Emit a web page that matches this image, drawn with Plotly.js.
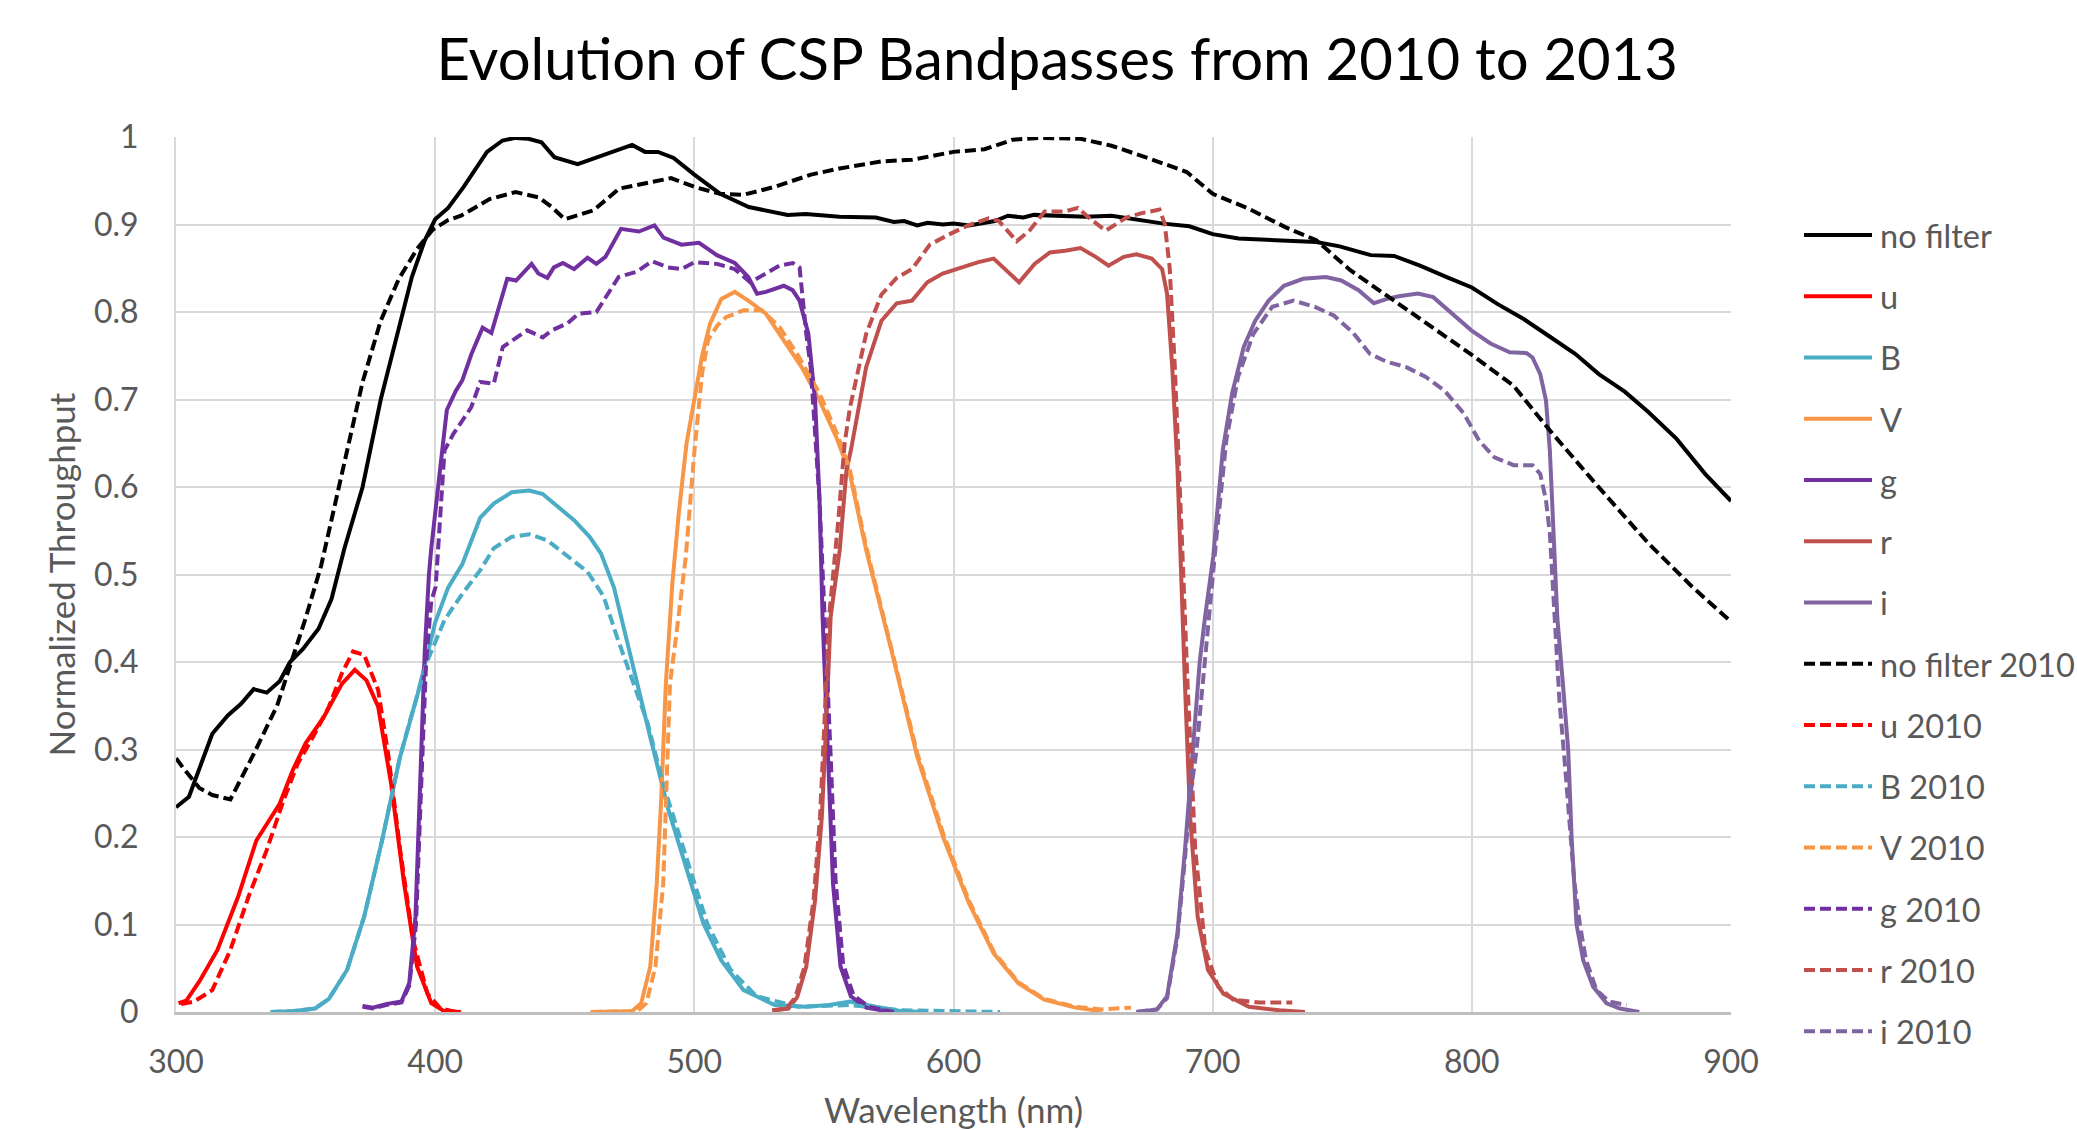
<!DOCTYPE html>
<html>
<head>
<meta charset="utf-8">
<script src="https://cdn.plot.ly/plotly-3.0.1.min.js"></script>
<style>
  html, body { margin: 0; padding: 0; background: #ffffff; overflow: hidden; }
  #chart { width: 2077px; height: 1130px; }
</style>
</head>
<body>
<div id="chart"></div>
<script>
// ---------- data (wavelength in nm, normalized throughput) ----------
const seriesNames = ["no filter", "u", "B", "V", "g", "r", "i",
  "no filter 2010", "u 2010", "B 2010", "V 2010", "g 2010", "r 2010", "i 2010"];

const noFilterWl = [300, 305, 314, 320, 325, 330, 335, 340, 344, 349, 355, 360, 365, 372, 379, 386, 391, 396, 400, 405, 411, 420, 426, 431, 436, 441, 446, 455, 466, 476, 481, 486, 492, 500, 510, 521, 536, 543, 556, 570, 577, 581, 586, 590, 596, 600, 606, 616, 621, 627, 631, 641, 651, 661, 671, 681, 691, 700, 710, 720, 730, 740, 749, 761, 770, 780, 791, 800, 810, 820, 830, 840, 849, 859, 868, 879, 890, 900];
const noFilterT  = [0.234, 0.246, 0.318, 0.339, 0.352, 0.369, 0.365, 0.378, 0.400, 0.415, 0.438, 0.472, 0.530, 0.600, 0.700, 0.780, 0.840, 0.882, 0.906, 0.919, 0.943, 0.983, 0.996, 0.999, 0.998, 0.994, 0.977, 0.969, 0.980, 0.991, 0.983, 0.983, 0.976, 0.957, 0.935, 0.920, 0.911, 0.912, 0.909, 0.908, 0.903, 0.904, 0.899, 0.902, 0.900, 0.901, 0.899, 0.904, 0.910, 0.908, 0.911, 0.910, 0.909, 0.910, 0.905, 0.901, 0.898, 0.889, 0.884, 0.883, 0.881, 0.880, 0.875, 0.865, 0.864, 0.853, 0.839, 0.828, 0.809, 0.792, 0.772, 0.752, 0.729, 0.709, 0.686, 0.655, 0.615, 0.584];

const uWl = [301, 304, 309, 316, 324, 331, 340, 345, 350, 357, 364, 369, 373.5, 378, 383, 388, 393, 398.5, 403.5, 410];
const uT  = [0.010, 0.013, 0.035, 0.071, 0.132, 0.196, 0.238, 0.276, 0.307, 0.337, 0.375, 0.391, 0.379, 0.349, 0.261, 0.147, 0.052, 0.010, 0.001, 0];

const bWl = [336.5, 345, 353.7, 359, 366, 372.6, 379.5, 386.4, 393.3, 400, 405, 410.5, 417.4, 422.6, 429.5, 436.4, 441.5, 446.7, 453.6, 459.6, 464, 469, 476, 483, 490, 497, 503.5, 510.4, 519, 531, 543, 552, 560, 570, 580, 590];
const bT  = [0, 0.001, 0.004, 0.015, 0.048, 0.109, 0.196, 0.291, 0.364, 0.445, 0.485, 0.512, 0.565, 0.581, 0.594, 0.596, 0.592, 0.579, 0.562, 0.543, 0.524, 0.485, 0.398, 0.314, 0.231, 0.162, 0.101, 0.059, 0.025, 0.008, 0.006, 0.008, 0.012, 0.006, 0.001, 0];

const vWl = [460, 476, 479.5, 483, 485.5, 487.2, 489, 491.5, 494, 497, 500, 503, 506, 510.4, 515.6, 520.8, 527.6, 534.5, 541.4, 548.3, 555.2, 560, 566.3, 576, 586, 596, 606, 615.5, 625, 635, 647, 657];
const vT  = [0, 0.001, 0.010, 0.052, 0.147, 0.242, 0.375, 0.489, 0.570, 0.650, 0.700, 0.750, 0.786, 0.815, 0.823, 0.813, 0.798, 0.768, 0.737, 0.699, 0.654, 0.615, 0.528, 0.414, 0.292, 0.200, 0.124, 0.067, 0.033, 0.014, 0.005, 0.001];

const gWl = [372, 376, 381, 387, 390, 392.4, 394.2, 396, 397.6, 398.5, 402, 404.5, 408, 410.5, 414, 418.3, 421.7, 425.2, 427.8, 431.2, 434.6, 437.2, 439.8, 443.3, 445.8, 449.3, 453.6, 458.8, 462.2, 465.7, 471.7, 478.6, 484.6, 488.1, 495, 501.8, 508.7, 515.6, 520.8, 524.2, 527.6, 534.5, 537.9, 540.6, 544, 546.6, 548.3, 549.5, 551.5, 553.5, 556.4, 560.4, 566.3, 576];
const gT  = [0.007, 0.005, 0.009, 0.012, 0.033, 0.109, 0.261, 0.413, 0.500, 0.530, 0.623, 0.688, 0.710, 0.722, 0.752, 0.782, 0.776, 0.813, 0.838, 0.836, 0.847, 0.855, 0.844, 0.839, 0.851, 0.856, 0.849, 0.862, 0.855, 0.863, 0.895, 0.892, 0.899, 0.885, 0.877, 0.879, 0.865, 0.856, 0.840, 0.821, 0.823, 0.830, 0.825, 0.813, 0.775, 0.699, 0.585, 0.450, 0.299, 0.147, 0.052, 0.018, 0.005, 0];

const rWl = [531, 536.3, 539.7, 543.2, 546.6, 549.2, 551, 552.6, 556.1, 558.7, 560.4, 566.3, 572.2, 578.1, 584, 589.9, 595.8, 603.7, 609.6, 615.5, 620.4, 625.3, 631.3, 637.2, 643.1, 649, 654.9, 659.8, 665.7, 670.6, 676.5, 680.5, 682.4, 684.4, 686.4, 687.4, 689.3, 691.3, 694.2, 698.2, 704.1, 714, 725.7, 735.6];
const rT  = [0.002, 0.004, 0.017, 0.052, 0.128, 0.223, 0.337, 0.452, 0.528, 0.619, 0.642, 0.737, 0.790, 0.810, 0.813, 0.834, 0.844, 0.852, 0.857, 0.861, 0.847, 0.834, 0.855, 0.868, 0.870, 0.873, 0.863, 0.853, 0.863, 0.866, 0.861, 0.849, 0.821, 0.737, 0.623, 0.528, 0.375, 0.223, 0.109, 0.048, 0.021, 0.006, 0.002, 0];

const iWl = [670.6, 678.5, 682.4, 686.4, 689.3, 691.3, 693.3, 695, 697, 700.2, 703.9, 707.5, 712, 716.4, 721.6, 727.5, 734.9, 743.7, 749.6, 756.3, 762.2, 767.3, 771.8, 779.2, 785.1, 791, 799.8, 807.2, 814.6, 821.2, 823.4, 826.4, 828.6, 830.1, 831.6, 833, 835, 837.2, 838.5, 840.4, 843, 846.8, 852, 857.1, 864.6];
const iT  = [0, 0.003, 0.018, 0.090, 0.185, 0.261, 0.340, 0.400, 0.450, 0.520, 0.642, 0.707, 0.760, 0.790, 0.813, 0.830, 0.838, 0.840, 0.836, 0.825, 0.810, 0.815, 0.818, 0.821, 0.817, 0.802, 0.779, 0.764, 0.754, 0.753, 0.748, 0.729, 0.699, 0.642, 0.547, 0.450, 0.380, 0.299, 0.200, 0.100, 0.059, 0.029, 0.010, 0.004, 0];

const noFilter2010Wl = [300, 303, 309, 314, 321, 330, 339, 344, 350, 356, 361, 366, 372, 379, 386, 393, 399, 405, 410, 421, 431, 440, 445, 450, 461, 471, 481, 491, 500, 510, 519, 531, 545, 556, 572, 584, 600, 612, 623, 633, 649, 661, 675, 690, 700, 714, 728, 740, 753, 769, 785, 800, 816, 830, 848, 868, 885, 900];
const noFilter2010T  = [0.290, 0.278, 0.256, 0.248, 0.243, 0.295, 0.350, 0.395, 0.450, 0.510, 0.575, 0.643, 0.720, 0.790, 0.838, 0.872, 0.894, 0.905, 0.910, 0.929, 0.937, 0.931, 0.920, 0.906, 0.916, 0.941, 0.947, 0.953, 0.943, 0.935, 0.934, 0.943, 0.957, 0.964, 0.972, 0.974, 0.983, 0.986, 0.997, 0.999, 0.998, 0.990, 0.976, 0.960, 0.935, 0.918, 0.897, 0.882, 0.848, 0.815, 0.783, 0.751, 0.716, 0.665, 0.603, 0.536, 0.486, 0.446];

const u2010Wl = [302, 307, 314, 321, 328, 335, 341.5, 347, 353, 359, 364, 368.3, 372.6, 378, 382, 386.5, 391.5, 397, 402, 408];
const u2010T  = [0.009, 0.012, 0.025, 0.071, 0.132, 0.185, 0.242, 0.284, 0.315, 0.349, 0.387, 0.412, 0.408, 0.368, 0.292, 0.185, 0.082, 0.021, 0.004, 0];

const b2010Wl = [336.5, 345, 353.7, 359, 366, 372.6, 379.5, 386.4, 390, 396.8, 403.6, 410.5, 417.4, 422.6, 429.5, 436.4, 443.3, 451, 458.8, 465, 470, 476, 482, 488, 497, 505, 514, 524, 540, 560, 580, 600, 618];
const b2010T  = [0, 0.001, 0.004, 0.015, 0.048, 0.109, 0.196, 0.291, 0.330, 0.400, 0.448, 0.478, 0.505, 0.530, 0.543, 0.546, 0.539, 0.521, 0.503, 0.475, 0.430, 0.380, 0.330, 0.260, 0.174, 0.101, 0.048, 0.018, 0.006, 0.008, 0.002, 0.0005, 0];

const v2010Wl = [460, 478, 481.5, 485, 488, 490.6, 493, 496.7, 500, 503, 505.3, 509, 512.2, 519.1, 526, 532.8, 539.7, 548.3, 555.2, 560, 566.3, 576, 586, 596, 606, 615.5, 625, 635, 647, 657, 668.5];
const v2010T  = [0, 0.001, 0.010, 0.052, 0.147, 0.375, 0.430, 0.520, 0.640, 0.730, 0.768, 0.785, 0.794, 0.802, 0.802, 0.783, 0.752, 0.707, 0.660, 0.620, 0.532, 0.418, 0.296, 0.204, 0.127, 0.069, 0.034, 0.015, 0.006, 0.003, 0.005];

const g2010Wl = [372, 376, 381, 387, 390, 392.6, 394.5, 396.5, 398.5, 400.2, 403.6, 407.1, 410.5, 413.9, 417.4, 422.6, 426.1, 429.5, 435.5, 441.5, 445, 451, 455.3, 462.2, 467.4, 470.8, 477.7, 483.7, 489.8, 495, 500.1, 508.7, 515.6, 521.6, 527.6, 532.8, 538, 540.6, 543.2, 544.9, 548.3, 550.1, 552.5, 554.5, 557.4, 561.4, 567.3, 577];
const g2010T  = [0.006, 0.004, 0.008, 0.011, 0.030, 0.100, 0.250, 0.400, 0.470, 0.486, 0.642, 0.661, 0.676, 0.691, 0.720, 0.718, 0.760, 0.767, 0.779, 0.771, 0.779, 0.787, 0.798, 0.800, 0.825, 0.840, 0.846, 0.858, 0.851, 0.849, 0.857, 0.855, 0.849, 0.834, 0.844, 0.853, 0.856, 0.851, 0.775, 0.737, 0.585, 0.471, 0.300, 0.150, 0.055, 0.019, 0.006, 0];

const r2010Wl = [530, 535.5, 539, 542.5, 546, 548.5, 550.3, 552, 555.5, 558, 560, 566.3, 572.2, 578.1, 584, 590.9, 597.8, 605.7, 613.5, 617.5, 624.4, 629.3, 635.2, 643.1, 648, 652.9, 658.8, 666.7, 672.6, 679.5, 681.5, 683.4, 685.4, 687.4, 688.3, 690.3, 693.3, 697.2, 702.1, 708, 717.9, 730.7];
const r2010T  = [0.002, 0.004, 0.017, 0.052, 0.128, 0.223, 0.337, 0.452, 0.560, 0.650, 0.690, 0.775, 0.820, 0.839, 0.849, 0.877, 0.888, 0.899, 0.907, 0.904, 0.881, 0.893, 0.915, 0.915, 0.919, 0.906, 0.893, 0.908, 0.913, 0.917, 0.901, 0.851, 0.737, 0.604, 0.528, 0.375, 0.185, 0.071, 0.029, 0.014, 0.011, 0.011];

const i2010Wl = [670.6, 678.5, 682.4, 686.4, 689.3, 691.5, 693.8, 696.5, 699, 701.6, 705.3, 709.8, 715.7, 723, 731.2, 739.3, 746.7, 754, 760.7, 767.3, 774.7, 782.1, 789.5, 796.9, 802.8, 808.7, 816.1, 823.4, 826.4, 828.6, 830.1, 831.6, 833.8, 836, 838, 839.5, 841.7, 844, 848.1, 853, 859.7];
const i2010T  = [0, 0.003, 0.016, 0.085, 0.175, 0.250, 0.300, 0.390, 0.470, 0.547, 0.654, 0.726, 0.775, 0.806, 0.813, 0.806, 0.796, 0.777, 0.752, 0.743, 0.737, 0.726, 0.710, 0.684, 0.653, 0.634, 0.625, 0.625, 0.615, 0.585, 0.547, 0.471, 0.356, 0.280, 0.200, 0.150, 0.100, 0.060, 0.025, 0.012, 0.008];

const xTickVals = [300, 400, 500, 600, 700, 800, 900];
const yTickVals = [0, 0.1, 0.2, 0.3, 0.4, 0.5, 0.6, 0.7, 0.8, 0.9, 1];

// ---------- styles ----------
const seriesColors = ["#000000", "#FF0000", "#4BACC6", "#F79646", "#7030A0", "#C0504D", "#8064A2"];
const FONT = "Lato, 'Open Sans', sans-serif";
const TEXT_GRAY = "#595959";
const LEGEND_LEFT_PX = 1799;

const solidData = [[noFilterWl, noFilterT], [uWl, uT], [bWl, bT], [vWl, vT], [gWl, gT], [rWl, rT], [iWl, iT]];
const dashedData = [[noFilter2010Wl, noFilter2010T], [u2010Wl, u2010T], [b2010Wl, b2010T], [v2010Wl, v2010T], [g2010Wl, g2010T], [r2010Wl, r2010T], [i2010Wl, i2010T]];

const traces = [];
solidData.forEach((d, k) => {
  traces.push({
    type: "scatter", mode: "lines", x: d[0], y: d[1],
    name: seriesNames[k], legendgroup: "s" + k,
    line: { color: seriesColors[k], width: 4, dash: "solid" },
    hoverinfo: "skip"
  });
});
dashedData.forEach((d, k) => {
  traces.push({
    type: "scatter", mode: "lines", x: d[0], y: d[1],
    name: seriesNames[7 + k], legendgroup: "d" + k,
    line: { color: seriesColors[k], width: 4, dash: "11px,5px" },
    hoverinfo: "skip"
  });
});

const layout = {
  width: 2077, height: 1130,
  paper_bgcolor: "#ffffff", plot_bgcolor: "#ffffff",
  margin: { l: 176, r: 346, t: 136.5, b: 118, pad: 0, autoexpand: false },
  font: { family: FONT, color: TEXT_GRAY, size: 30 },
  title: {
    text: "Evolution of CSP Bandpasses from 2010 to 2013",
    font: { family: FONT, size: 58, color: "#000000" },
    xref: "container", yref: "container",
    x: 0.509, xanchor: "center", y: 0.947, yanchor: "middle"
  },
  xaxis: {
    range: [300, 900], tickvals: xTickVals, ticks: "", showgrid: true,
    gridcolor: "#D9D9D9", gridwidth: 2, zeroline: false,
    showline: true, linecolor: "#BFBFBF", linewidth: 2.5,
    tickfont: { family: FONT, size: 32, color: TEXT_GRAY },
    ticklabelstandoff: 20, automargin: false,
    title: { text: "Wavelength (nm)", font: { family: FONT, size: 35, color: TEXT_GRAY }, standoff: 26 }
  },
  yaxis: {
    range: [0, 1], tickvals: yTickVals, ticks: "", showgrid: true,
    gridcolor: "#D9D9D9", gridwidth: 2, zeroline: false,
    showline: true, linecolor: "#D9D9D9", linewidth: 2,
    tickfont: { family: FONT, size: 32, color: TEXT_GRAY },
    ticklabelstandoff: 29, automargin: false,
    title: { text: "Normalized Throughput", font: { family: FONT, size: 35, color: TEXT_GRAY }, standoff: 8 }
  },
  showlegend: true,
  legend: {
    x: (LEGEND_LEFT_PX - 176) / 1555, xanchor: "left", y: 0.9195, yanchor: "top",
    font: { family: FONT, size: 32.5, color: TEXT_GRAY },
    itemwidth: 71, tracegroupgap: 16, traceorder: "grouped",
    bgcolor: "rgba(0,0,0,0)", borderwidth: 0
  },
  hovermode: false
};

// Excel-style legend: longer line samples, legend anchored at its left edge
function fixLegend() {
  document.querySelectorAll("#chart g.legendlines path").forEach(p => {
    p.setAttribute("d", "M5,0h68");
  });
  const leg = document.querySelector("#chart g.legend");
  if (leg) {
    const m = /translate\(\s*([-\d.eE]+)[ ,]+([-\d.eE]+)\s*\)/.exec(leg.getAttribute("transform") || "");
    if (m) leg.setAttribute("transform", "translate(" + LEGEND_LEFT_PX + "," + m[2] + ")");
  }
}

const gd = document.getElementById("chart");
Plotly.newPlot(gd, traces, layout, { staticPlot: true, displayModeBar: false }).then(() => {
  fixLegend();
  gd.on("plotly_afterplot", fixLegend);
});
</script>
</body>
</html>
